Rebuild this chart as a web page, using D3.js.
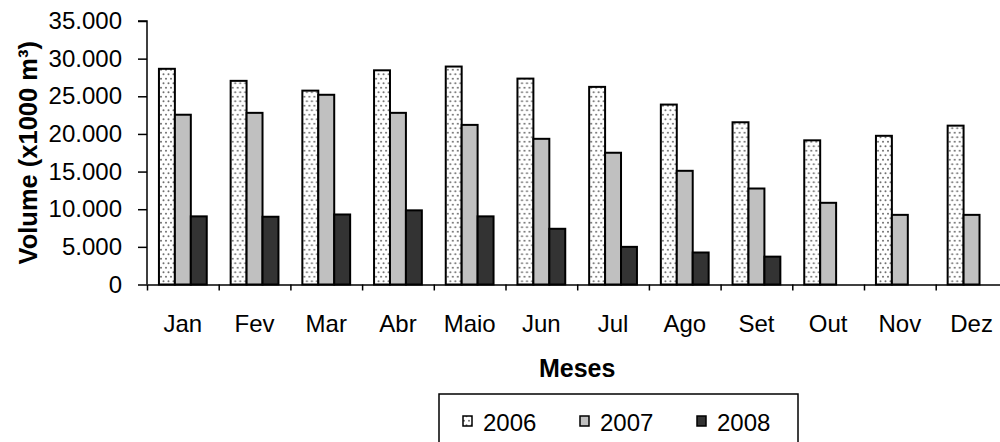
<!DOCTYPE html>
<html><head><meta charset="utf-8">
<script src="https://cdn.jsdelivr.net/npm/d3@7"></script>
<style>
html,body{margin:0;padding:0;background:#fff;}
svg{display:block;font-family:"Liberation Sans",Arial,sans-serif;}
</style></head>
<body><svg id="c" width="1000" height="442"></svg>
<script>
const months = ["Jan","Fev","Mar","Abr","Maio","Jun","Jul","Ago","Set","Out","Nov","Dez"];
const seriesNames = ["2006","2007","2008"];
const v2006 = [28650, 27050, 25750, 28450, 28950, 27350, 26250, 23900, 21550, 19150, 19750, 21100];
const v2007 = [22550, 22800, 25200, 22800, 21200, 19350, 17500, 15100, 12750, 10850, 9250, 9250];
const v2008 = [9050, 9000, 9300, 9850, 9050, 7400, 5000, 4250, 3700, null, null, null];
const yTicks = [0, 5000, 10000, 15000, 20000, 25000, 30000, 35000];

const svg = d3.select("#c");
const fills = {"2006":"url(#dots)","2007":"#C0C0C0","2008":"#333333"};

const defs = svg.append("defs");
const pat = defs.append("pattern").attr("id","dots").attr("patternUnits","userSpaceOnUse")
  .attr("width",5).attr("height",9);
pat.append("rect").attr("width",5).attr("height",9).attr("fill","#fff");
pat.append("circle").attr("cx",1.5).attr("cy",2.25).attr("r",1).attr("fill","#707070");
pat.append("circle").attr("cx",4).attr("cy",6.75).attr("r",1).attr("fill","#707070");

const pL = 147, pR = 1007.4, pT = 21, pB = 284.5;
const y = d3.scaleLinear().domain([0,35000]).range([pB, pT]);
const x0 = d3.scaleBand().domain(months).range([pL, pR]).padding(0);
const bw = x0.bandwidth();
const x1 = d3.scaleBand().domain(seriesNames).range([bw/6, bw*5/6]).padding(0);
const xb = d3.scaleLinear().domain([0,12]).range([pL, pR]);

const data = months.map((m,i)=>({m, vals:[
  {s:"2006", v:v2006[i]},{s:"2007", v:v2007[i]},{s:"2008", v:v2008[i]}]}));

const fmt = d3.formatLocale({decimal:",",thousands:".",grouping:[3],currency:["",""]}).format(",");
const FS = 24;

// bars
const g = svg.append("g");
g.selectAll("g.grp").data(data).join("g").attr("class","grp")
  .attr("transform", d=>`translate(${x0(d.m)},0)`)
  .selectAll("rect").data(d=>d.vals.filter(e=>e.v!=null)).join("rect")
  .attr("x", d=>x1(d.s)).attr("width", x1.bandwidth())
  .attr("y", d=>y(d.v)).attr("height", d=>y(0)-y(d.v))
  .attr("fill", d=>fills[d.s]).attr("stroke","#000").attr("stroke-width",2);

// y axis
const ya = svg.append("g").attr("transform",`translate(${pL},0)`)
  .call(d3.axisLeft(y).tickValues(yTicks).tickSize(9).tickPadding(16).tickFormat(d=>fmt(d)));
ya.select(".domain").attr("stroke","#000").attr("stroke-width",1.5).attr("d",`M-9,${y(35000)}H0V${y(0)}`);
ya.selectAll(".tick line").attr("stroke","#000").attr("stroke-width",1.5);
ya.selectAll("text").attr("font-size",FS).attr("fill","#000").attr("font-family","Liberation Sans, Arial, sans-serif");

// x axis ticks
const xa = svg.append("g").attr("transform",`translate(0,${pB})`)
  .call(d3.axisBottom(xb).tickValues(d3.range(13)).tickSize(6).tickSizeOuter(0).tickFormat(""));
xa.select(".domain").attr("stroke","#000").attr("stroke-width",1.5);
xa.selectAll(".tick line").attr("stroke","#000").attr("stroke-width",1.5);

// x labels
const xl = svg.append("g").attr("transform",`translate(0,${pB})`)
  .call(d3.axisBottom(x0).tickSize(0).tickPadding(30));
xl.select(".domain").remove();
xl.selectAll("text").attr("font-size",FS).attr("fill","#000").attr("font-family","Liberation Sans, Arial, sans-serif");

// axis titles
svg.append("text").attr("x",(pL+pR)/2).attr("y",377).attr("text-anchor","middle")
  .attr("font-size",25).attr("font-weight","bold").text("Meses");
svg.append("text").attr("transform",`translate(37,${(pT+pB)/2}) rotate(-90)`)
  .attr("text-anchor","middle").attr("font-size",25.5).attr("font-weight","bold")
  .text("Volume (x1000 m³)");

// legend
const lg = svg.append("g");
lg.append("rect").attr("x",439).attr("y",394).attr("width",359).attr("height",60)
  .attr("fill","#fff").attr("stroke","#000").attr("stroke-width",1.5);
const lx = [463, 580, 697];
seriesNames.forEach((s,i)=>{
  lg.append("rect").attr("x",lx[i]).attr("y",416).attr("width",9).attr("height",10)
    .attr("fill",fills[s]).attr("stroke","#000").attr("stroke-width",1.5);
  lg.append("text").attr("x",lx[i]+20).attr("y",431).attr("font-size",FS).text(s);
});
</script></body></html>
